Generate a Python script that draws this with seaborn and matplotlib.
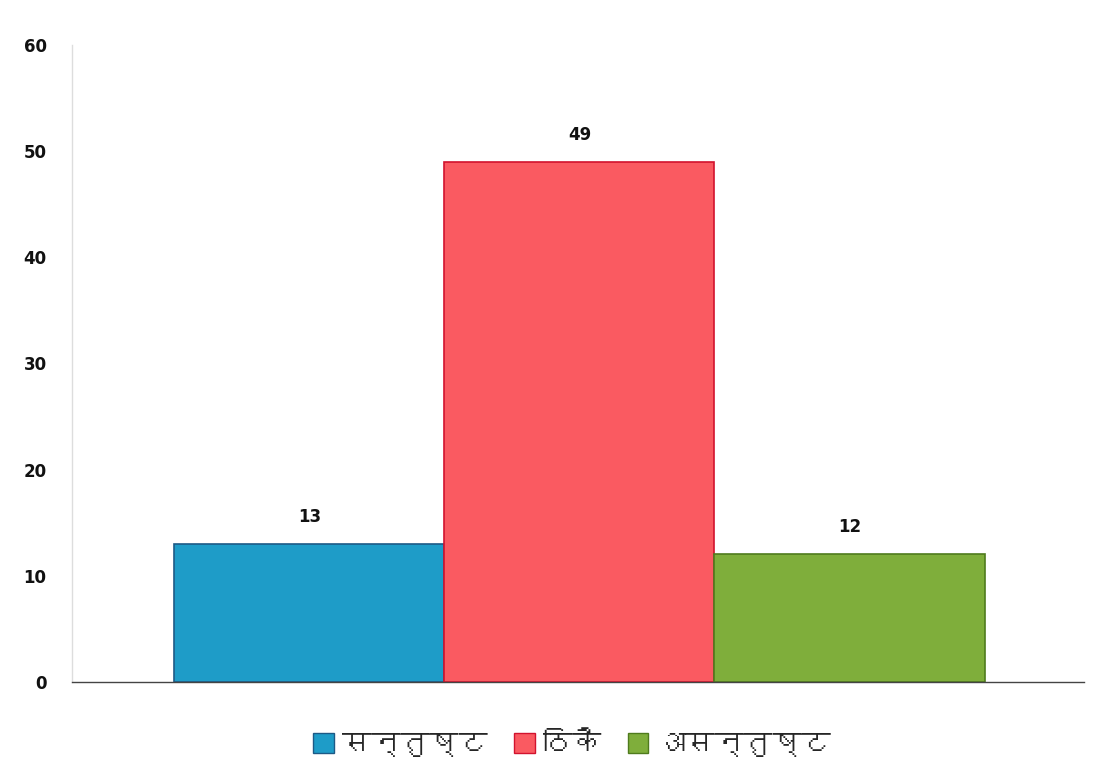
import matplotlib
matplotlib.use('Agg')
import matplotlib.pyplot as plt
from matplotlib import font_manager
from matplotlib.ft2font import FT2Font
import pandas as pd
import seaborn as sns

# chart data
categories = ['सन्तुष्ट', 'ठिकै', 'असन्तुष्ट']
counts = [13, 49, 12]
yticks = [0, 10, 20, 30, 40, 50, 60]

bar_colors = ['#1e9cc8', '#fa5a61', '#7fae3b']
edge_colors = ['#1d5a86', '#d2132e', '#4f7b1d']


def find_devanagari_family():
    # look for any installed font that has Devanagari glyphs
    for f in font_manager.fontManager.ttflist:
        try:
            cmap = FT2Font(f.fname).get_charmap()
        except Exception:
            continue
        if 0x0938 in cmap and 0x0920 in cmap:
            return f.name
    return None


sns.set_theme(style='white')
deva = find_devanagari_family()
families = ([deva] if deva else []) + ['DejaVu Sans']
plt.rcParams['font.family'] = families

df = pd.DataFrame({'category': categories, 'count': counts})

fig = plt.figure(figsize=(11.01, 7.8), dpi=100)
ax = fig.add_axes([0.065, 0.126, 0.92, 0.816])

sns.barplot(data=df, x='category', y='count', hue='category',
            order=categories, hue_order=categories, palette=bar_colors,
            saturation=1, width=1.0, dodge=False, legend=False, ax=ax)

for patch, ec in zip(ax.patches, edge_colors):
    patch.set_edgecolor(ec)
    patch.set_linewidth(1.2)

# value labels above bars
for container in ax.containers:
    ax.bar_label(container, padding=13, fontsize=12, fontweight='bold',
                 family='DejaVu Sans', color='#111111')

ax.set_ylim(0, 60)
ax.set_xlim(-0.88, 2.87)
ax.set_yticks(yticks)
ax.set_yticklabels([str(t) for t in yticks], fontsize=12, fontweight='bold',
                   family='DejaVu Sans', color='#111111')
ax.tick_params(axis='y', length=0, pad=18)
ax.set_xticks([])
ax.set_xlabel('')
ax.set_ylabel('')

sns.despine(ax=ax, top=True, right=True)
ax.spines['left'].set_color('#dddddd')
ax.spines['left'].set_linewidth(1.0)
ax.spines['bottom'].set_color('#444444')
ax.spines['bottom'].set_linewidth(1.0)

# legend below the plot
handles = [plt.Rectangle((0, 0), 1, 1, facecolor=c, edgecolor=e)
           for c, e in zip(bar_colors, edge_colors)]
fig.legend(handles, categories, loc='center', bbox_to_anchor=(0.52, 0.045),
           ncol=3, frameon=False, fontsize=21, handlelength=0.7,
           handleheight=0.7, handletextpad=0.3, columnspacing=0.9)

fig.savefig('out.png', dpi=100, facecolor='white')
